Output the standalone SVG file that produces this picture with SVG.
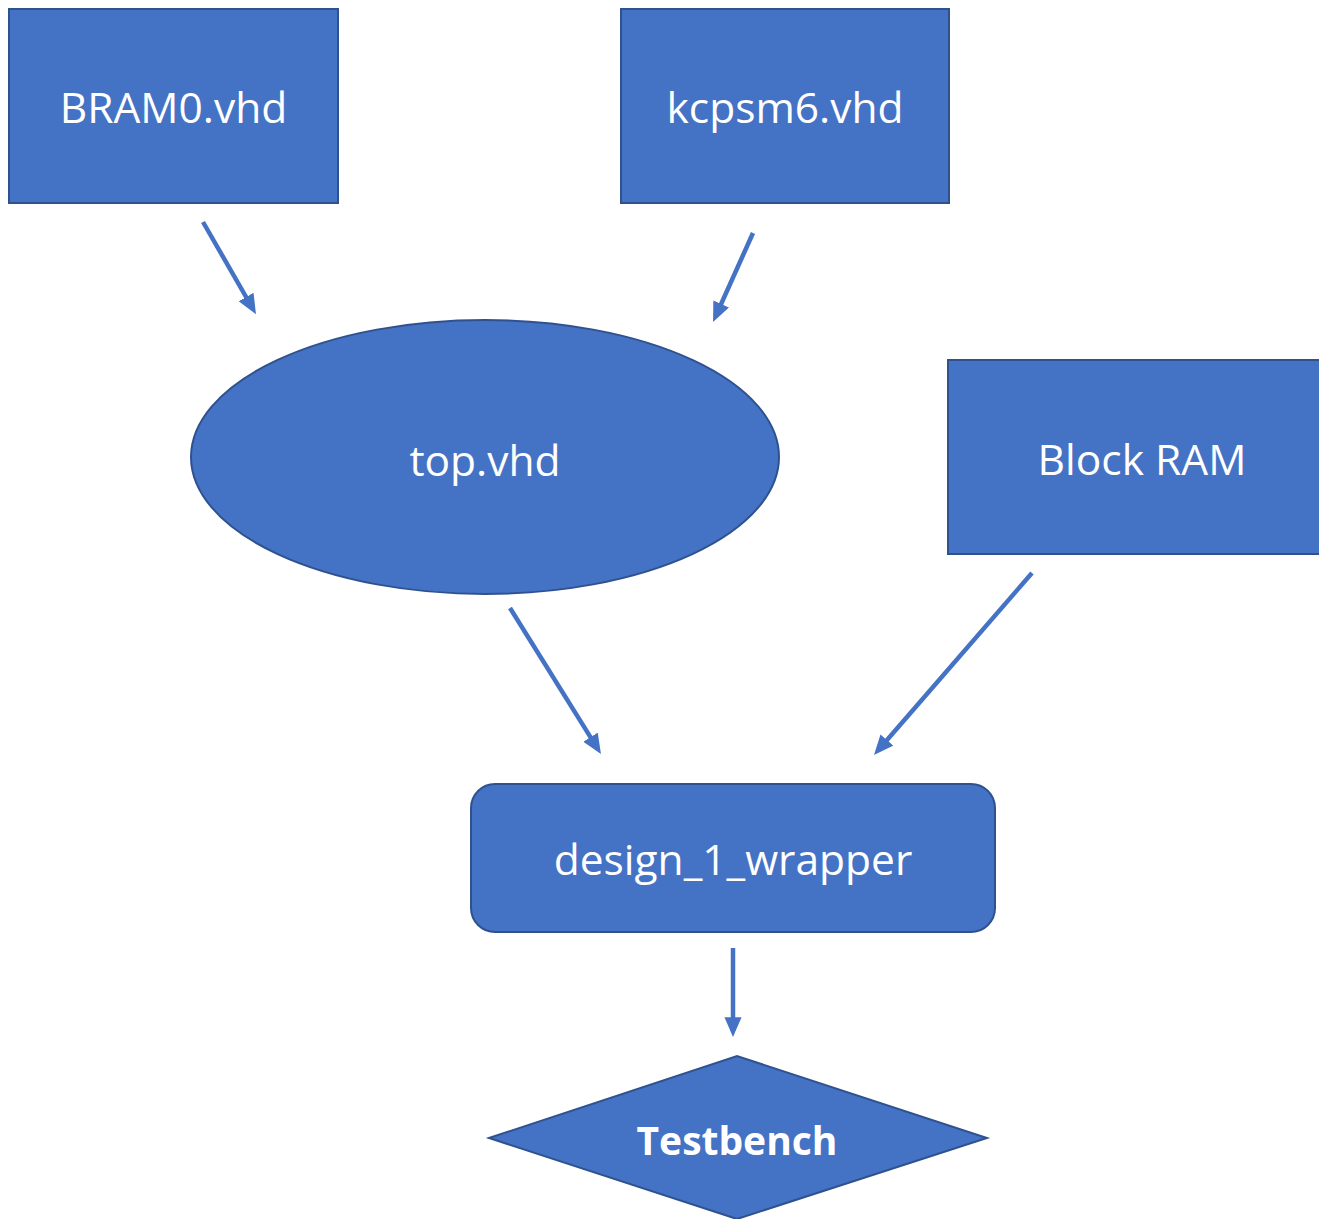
<svg xmlns="http://www.w3.org/2000/svg" width="1319" height="1219" viewBox="0 0 1319 1219">
  <style>
    .shape { fill: #4472C4; stroke: #2F528F; stroke-width: 2; }
    .label { fill: #FFFFFF; font-family: "Open Sans", "Noto Sans", "Liberation Sans", sans-serif; font-size: 42.5px; text-anchor: middle; dominant-baseline: central; }
    .bold { font-weight: bold; font-size: 39px; }
    .link { stroke: #4472C4; stroke-width: 4.5; fill: none; marker-end: url(#head); }
  </style>
  <defs>
    <marker id="head" markerUnits="strokeWidth" markerWidth="4.4" markerHeight="3.8" refX="3.07" refY="1.9" orient="auto">
      <path d="M0,0 L4.4,1.9 L0,3.8 z" fill="#4472C4"/>
    </marker>
  </defs>
  <rect width="1319" height="1219" fill="#FFFFFF"/>

  <g id="connectors">
    <!-- BRAM0 -> top -->
    <line class="link" x1="203" y1="222" x2="253" y2="309"/>
    <!-- kcpsm6 -> top -->
    <line class="link" x1="753" y1="233" x2="715.5" y2="316.5"/>
    <!-- top -> wrapper -->
    <line class="link" x1="510" y1="608" x2="597.8" y2="748.9"/>
    <!-- Block RAM -> wrapper -->
    <line class="link" x1="1032" y1="573" x2="877.9" y2="750.5"/>
    <!-- wrapper -> Testbench -->
    <line class="link" x1="733" y1="948" x2="733" y2="1031"/>
  </g>

  <g id="bram0">
    <rect class="shape" x="9" y="9" width="329" height="194"/>
    <text class="label" x="173.5" y="106">BRAM0.vhd</text>
  </g>

  <g id="kcpsm6">
    <rect class="shape" x="621" y="9" width="328" height="194"/>
    <text class="label" x="785" y="106">kcpsm6.vhd</text>
  </g>

  <g id="top">
    <ellipse class="shape" cx="485" cy="457" rx="294" ry="137"/>
    <text class="label" x="485" y="459">top.vhd</text>
  </g>

  <g id="block-ram">
    <rect class="shape" x="948" y="360" width="372" height="194"/>
    <text class="label" x="1142" y="458">Block RAM</text>
  </g>

  <g id="wrapper">
    <rect class="shape" x="471" y="784" width="524" height="148" rx="24" ry="24"/>
    <text class="label" x="733" y="858">design_1_wrapper</text>
  </g>

  <g id="testbench">
    <polygon class="shape" points="489,1138 737,1056 987,1138 737,1219"/>
    <text class="label bold" x="737" y="1139">Testbench</text>
  </g>
</svg>
